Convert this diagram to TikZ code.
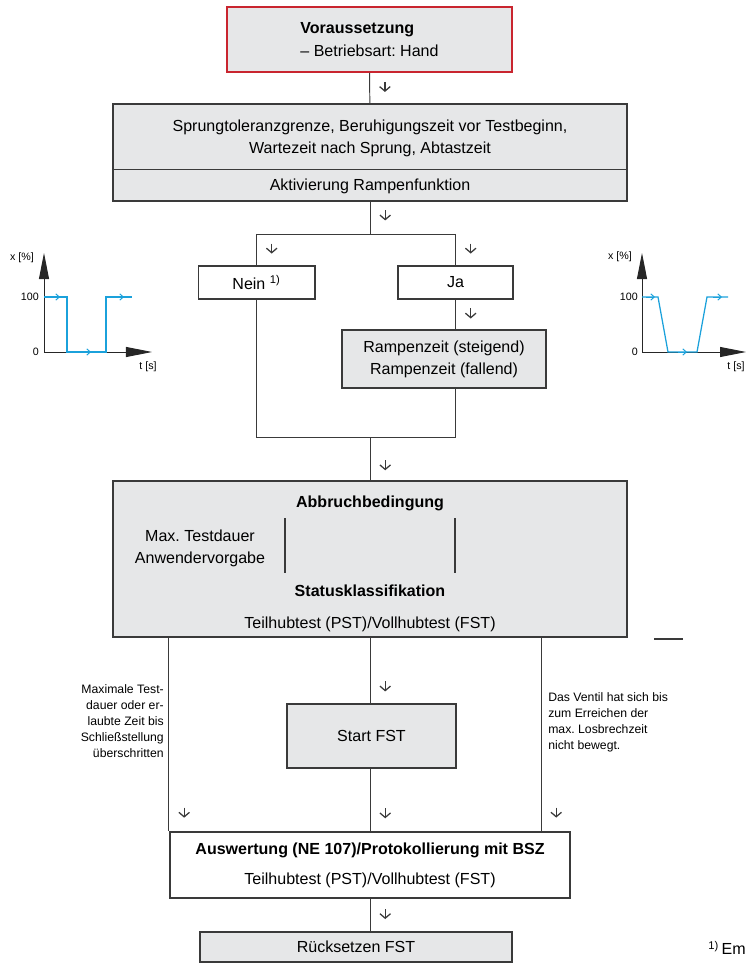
\documentclass[tikz,border=0pt]{standalone}
\usepackage{fontspec}
\setmainfont{Liberation Sans}
\usetikzlibrary{positioning, arrows.meta, calc}
\frenchspacing
\definecolor{boxgray}{HTML}{E6E7E8}
\definecolor{framered}{HTML}{C9252F}
\definecolor{sigblue}{HTML}{1BA1DB}
\definecolor{linegray}{HTML}{3A3A3A}
\tikzset{
    box/.style={
        rectangle,
        draw=linegray,
        line width=1.4pt,
        fill=boxgray,
        inner sep=0pt
    },
    whitebox/.style={
        box,
        fill=white
    },
    prebox/.style={
        box,
        draw=framered,
        line width=1.2pt
    },
    txt/.style={
        font=\fontsize{11.4}{15.5}\selectfont,
        align=center,
        inner sep=0pt
    },
    note/.style={
        font=\fontsize{8.7}{11.3}\selectfont,
        inner sep=0pt
    },
    chartlbl/.style={
        font=\fontsize{7.6}{8}\selectfont,
        inner sep=0pt
    },
    flow/.style={
        draw=linegray,
        line width=0.7pt
    },
    dn/.style={
        xshift=0.38cm,
        inner sep=0pt,
        minimum width=0.36cm,
        minimum height=0.3cm,
        path picture={
            \draw[draw=linegray, line width=0.9pt, -{Straight Barb[length=3.2pt,width=7.5pt]}]
                (path picture bounding box.north) -- ([yshift=1.4pt]path picture bounding box.south);
        }
    },
    bar/.style={
        draw=linegray,
        line width=1pt
    },
    axis/.style={
        draw=black!85,
        line width=0.6pt,
        -{Triangle[length=0.65cm,width=0.25cm]}
    },
    signal/.style={
        draw=sigblue,
        line width=0.9pt
    },
    sigtip/.style={
        draw=sigblue,
        line width=0.7pt,
        -{Straight Barb[length=2.5pt,width=4.5pt]}
    }
}
\begin{document}
\begin{tikzpicture}[x=0.025cm, y=-0.025cm]
  \useasboundingbox (0,0) rectangle (755,964);

  % boxes
  \node[prebox, txt, align=left, minimum width=7.125cm, minimum height=1.625cm] (pre) at (369.5,39.5)
    {\textbf{Voraussetzung}\\[1pt]– Betriebsart: Hand};
  \node[box, minimum width=12.85cm, minimum height=2.425cm] (param) at (370,152.5) {};
  \node[txt] (paramtxt) at (370,138.5) {Sprungtoleranzgrenze, Beruhigungszeit vor Testbeginn,\\Wartezeit nach Sprung, Abtastzeit};
  \node[txt] (ramptxt) at (370,186) {Aktivierung Rampenfunktion};
  \coordinate (div) at (370,169);
  \draw[flow] (param.west |- div) -- (param.east |- div);

  \node[whitebox, txt, minimum width=2.9cm, minimum height=0.825cm] (nein) at (256.5,282.5) {Nein \textsuperscript{1)}};
  \node[whitebox, txt, minimum width=2.875cm, minimum height=0.825cm] (ja) at (455.5,282.5) {Ja};
  \node[box, txt, minimum width=5.1cm, minimum height=1.45cm] (rampe) at (444,359) {Rampenzeit (steigend)\\Rampenzeit (fallend)};

  \node[box, minimum width=12.85cm, minimum height=3.9cm] (abbruch) at (370,559) {};
  \node[txt] (abbruchtxt) at (370,503) {\textbf{Abbruchbedingung}};
  \node[txt] (testdauer) at (200,548) {Max. Testdauer\\Anwendervorgabe};
  \node[txt] (statustxt) at (370,591) {\textbf{Statusklassifikation}};
  \node[txt] (pstfst) at (370,624) {Teilhubtest (PST)/Vollhubtest (FST)};
  \draw[bar] (285,518) -- (285,573);
  \draw[bar] (455,518) -- (455,573);
  \draw[line width=1.3pt, draw=linegray] (654,639) -- (683,639);

  \node[box, txt, minimum width=4.225cm, minimum height=1.6cm] (start) at (371.5,736) {Start FST};
  \node[whitebox, txt, minimum width=10cm, minimum height=1.65cm] (ausw) at (370,865)
    {\textbf{Auswertung (NE 107)/Protokollierung mit BSZ}\\[6pt]Teilhubtest (PST)/Vollhubtest (FST)};
  \node[box, txt, minimum width=7.8cm, minimum height=0.75cm] (reset) at (356,947) {Rücksetzen FST};

  \node[note, align=right, anchor=east] (leftnote) at (164,721)
    {Maximale Test-\\dauer oder er-\\laubte Zeit bis\\Schließstellung\\überschritten};
  \node[note, align=left, anchor=west] (rightnote) at (548,722)
    {Das Ventil hat sich bis\\zum Erreichen der\\max. Losbrechzeit\\nicht bewegt.};
  \node[txt, anchor=west] (footnote) at (708,948) {\textsuperscript{1)}\,Em};

  % connectors
  \draw[flow] (pre) -- node[dn]{} (param);
  \coordinate (split) at (370,234);
  \draw[flow] (param) -- node[dn, pos=0.45]{} (split);
  \draw[flow] (nein.north |- split) -- (ja.north |- split);
  \draw[flow] (nein.north |- split) -- node[dn]{} (nein.north);
  \draw[flow] (ja.north |- split) -- node[dn]{} (ja.north);
  \draw[flow] (ja.south) -- node[dn]{} (ja.south |- rampe.north);
  \coordinate (join) at (370,437);
  \draw[flow] (nein.south) |- (join);
  \draw[flow] (ja.south |- rampe.south) |- (join);
  \draw[flow] (join) -- node[dn, pos=0.68]{} (abbruch);

  \draw[flow] (abbruch.south) -- node[dn, pos=0.76]{} (abbruch.south |- start.north);
  \draw[flow] (abbruch.south |- start.south) -- node[dn, pos=0.73]{} (abbruch.south |- ausw.north);
  \draw[flow] (abbruch.south -| ausw.west) -- node[dn, pos=0.91]{} (ausw.north west);
  \coordinate (rbranch) at (541,637);
  \draw[flow] (rbranch) -- node[dn, pos=0.91]{} (rbranch |- ausw.north);
  \draw[flow] (ausw) -- node[dn]{} (ausw.south |- reset.north);

  % step chart
  \draw[axis] (44,352) -- (44,253);
  \draw[axis] (44,352) -- (152,352);
  \draw[signal] (44,297) -- (67,297) -- (67,352) -- (106,352) -- (106,297) -- (132,297);
  \draw[sigtip] (51,297) -- (60,297);
  \draw[sigtip] (82,352) -- (91,352);
  \draw[sigtip] (115,297) -- (124,297);
  \node[chartlbl, anchor=east] (hundredl) at (39,297) {100};
  \node[chartlbl, anchor=east] (zerol) at (39,352) {0};
  \node[chartlbl] (xlabl) at (22,258) {x [\%]};
  \node[chartlbl] (tlabl) at (148,367) {t [s]};

  % ramp chart
  \draw[axis] (642,352) -- (642,253);
  \draw[axis] (642,352) -- (746,352);
  \draw[signal] (642,297) -- (658,297) -- (668,352) -- (697,352) -- (707,297) -- (728,297);
  \draw[sigtip] (646,297) -- (655,297);
  \draw[sigtip] (678,352) -- (687,352);
  \draw[sigtip] (713,297) -- (722,297);
  \node[chartlbl, anchor=east] (hundredr) at (638,297) {100};
  \node[chartlbl, anchor=east] (zeror) at (638,352) {0};
  \node[chartlbl] (xlabr) at (620,257) {x [\%]};
  \node[chartlbl] (tlabr) at (736,367) {t [s]};

\end{tikzpicture}
\end{document}
